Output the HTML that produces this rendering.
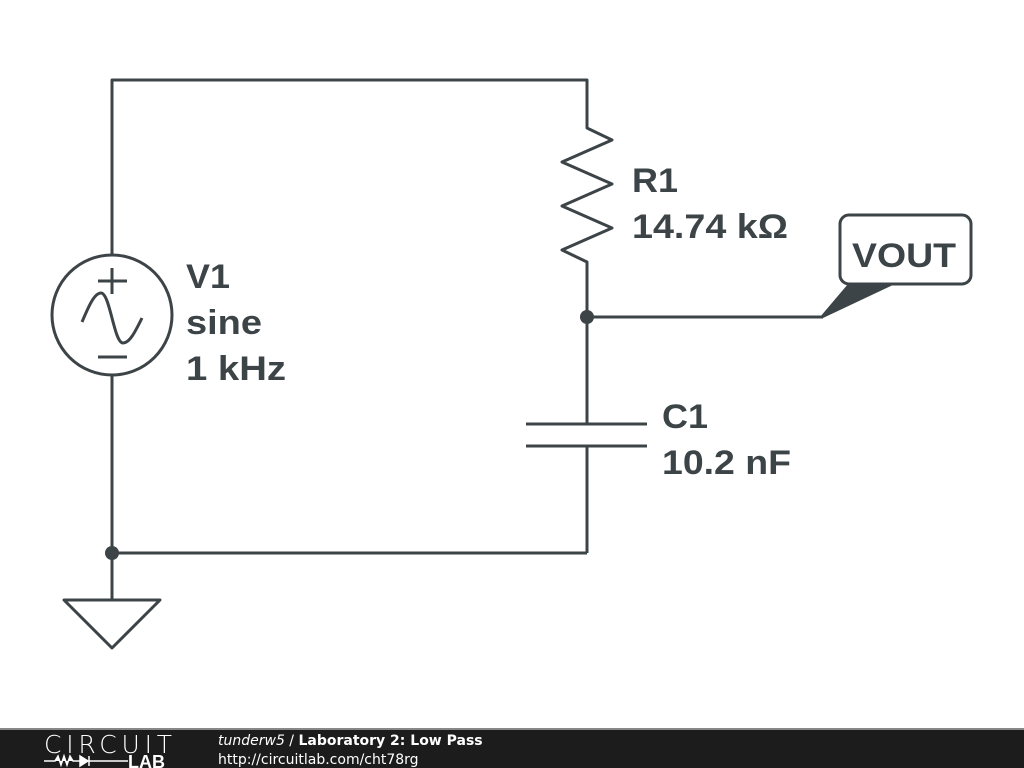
<!DOCTYPE html>
<html><head><style>
body{margin:0;width:1024px;height:768px;overflow:hidden;background:#fff;font-family:"Liberation Sans",sans-serif}
</style></head><body>
<svg width="1024" height="768" xmlns="http://www.w3.org/2000/svg" style="position:absolute;left:0;top:0">
<g stroke="#3d4447" stroke-width="3" fill="none" stroke-linejoin="round">
<polyline points="112,255 112,80 587,80 587,128 612,140 562,162 612,184 562,206 612,228 562,250 587,262 587,317 587,424"/>
<line x1="112" y1="375" x2="112" y2="600"/>
<line x1="112" y1="553" x2="587" y2="553"/>
<line x1="587" y1="446" x2="587" y2="553"/>
<line x1="526" y1="424" x2="647" y2="424"/>
<line x1="526" y1="446" x2="647" y2="446"/>
<polygon points="64,600 160,600 112,648"/>
<circle cx="112" cy="315" r="60"/>
<line x1="98" y1="281" x2="127" y2="281"/><line x1="112" y1="268" x2="112" y2="294"/>
<line x1="98" y1="357" x2="127" y2="357"/>
<path d="M82,322 C88,308 94,293 101,293 C110,293 114,343 123,343 C130,343 136,330 142,318"/>
<line x1="587" y1="317" x2="823" y2="317"/>
<rect x="840" y="215" width="131" height="69" rx="9"/>
</g>
<polygon points="848,284 895,284 823,318 820,317" fill="#3d4447"/>
<circle cx="587" cy="317" r="7" fill="#3d4447"/>
<circle cx="112" cy="553" r="7" fill="#3d4447"/>
<g fill="#3d4447" font-family="Liberation Sans,sans-serif" font-weight="bold" font-size="34">
<text x="632" y="192" textLength="46" lengthAdjust="spacingAndGlyphs">R1</text><text x="632" y="238" textLength="156" lengthAdjust="spacingAndGlyphs">14.74 kΩ</text>
<text x="186" y="288" textLength="44" lengthAdjust="spacingAndGlyphs">V1</text><text x="186" y="334" textLength="76" lengthAdjust="spacingAndGlyphs">sine</text><text x="186" y="380" textLength="100" lengthAdjust="spacingAndGlyphs">1 kHz</text>
<text x="662" y="428" textLength="46" lengthAdjust="spacingAndGlyphs">C1</text><text x="662" y="474" textLength="129" lengthAdjust="spacingAndGlyphs">10.2 nF</text>
<text x="852" y="267" textLength="104" lengthAdjust="spacingAndGlyphs">VOUT</text>
</g>
<rect x="0" y="728" width="1024" height="40" fill="#1c1c1c"/>
<rect x="0" y="728" width="1024" height="2" fill="#888"/>
<text x="44" y="753" fill="#fff" font-size="25" font-family="DejaVu Sans,sans-serif" font-weight="200" textLength="128">CIRCUIT</text>
<text x="128" y="768" fill="#fff" font-size="18" font-weight="bold" font-family="Liberation Sans,sans-serif">LAB</text>
<path d="M44,761 H55 L58,756 L61,765 L64,756 L67,765 L70,756 L73,761 H95 M80,756 L88,761 L80,766 Z M89,756 V766 M89,761 H128" stroke="#fff" stroke-width="1.5" fill="#fff"/>
<text x="218" y="745" fill="#fff" font-size="14" font-family="DejaVu Sans,sans-serif"><tspan font-style="italic">tunderw5</tspan> / <tspan font-weight="bold">Laboratory 2: Low Pass</tspan></text>
<text x="218" y="764" fill="#fff" font-size="14" font-family="DejaVu Sans,sans-serif">http://circuitlab.com/cht78rg</text>
</svg>
</body></html>
